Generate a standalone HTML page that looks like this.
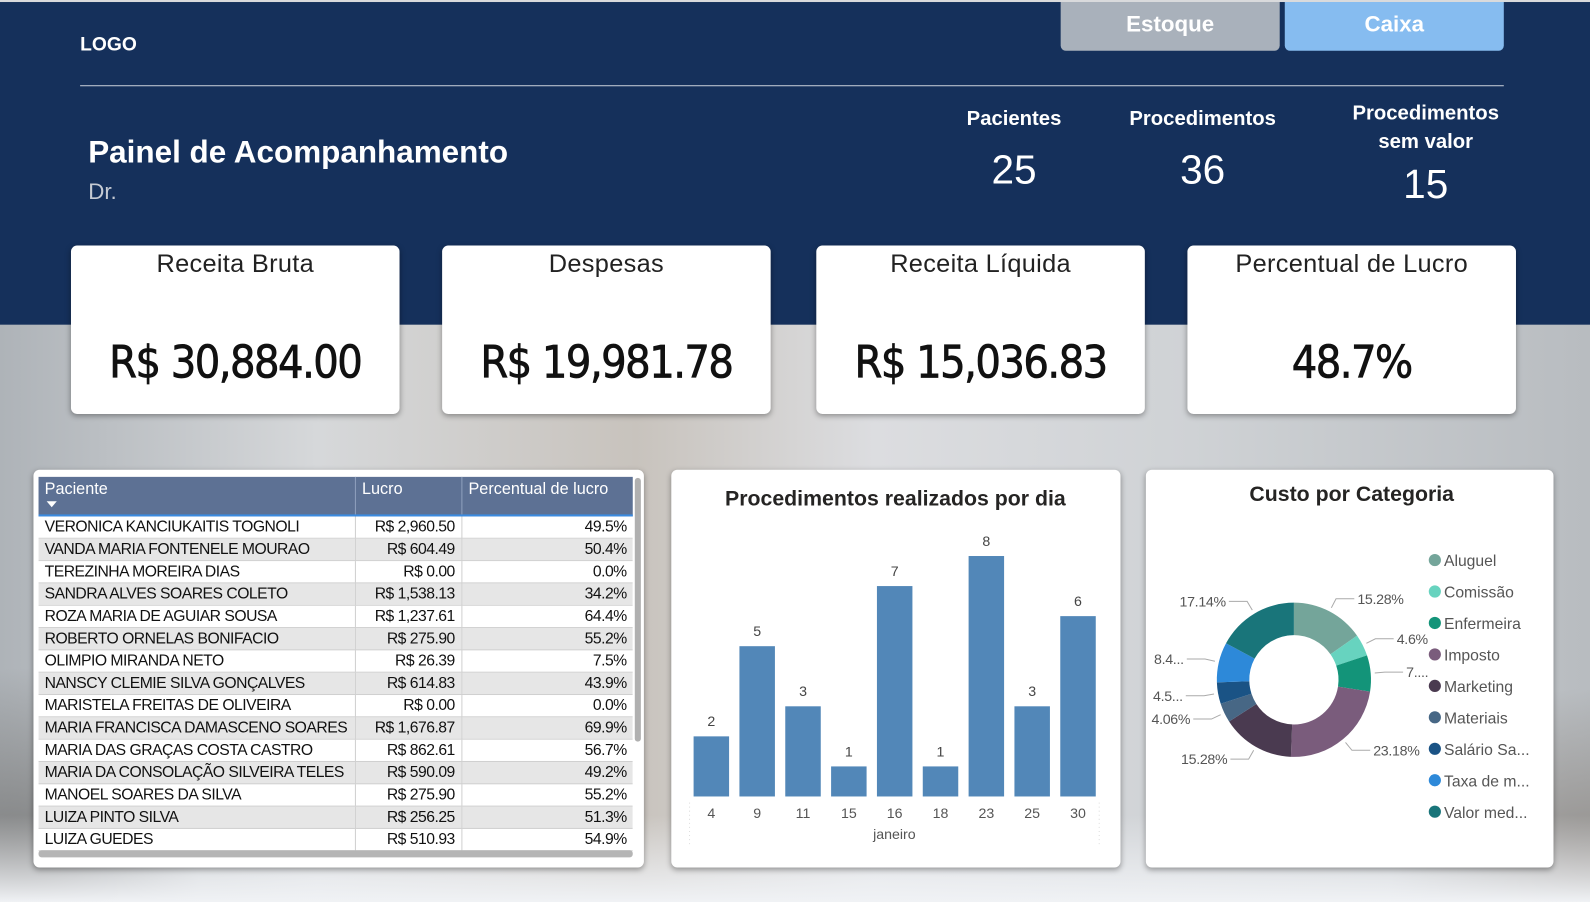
<!DOCTYPE html>
<html><head><meta charset="utf-8">
<style>
html,body{margin:0;padding:0;width:1590px;height:902px;overflow:hidden;background:#c9ccd0;}
#wrap{position:absolute;left:0;top:0;width:1568px;height:889px;transform-origin:0 0;transform:scale(1.01403,1.01462);font-family:"Liberation Sans","DejaVu Sans",sans-serif;}
.abs{position:absolute;}
.bg{left:0;top:318px;width:1568px;height:571px;background:
 linear-gradient(180deg,rgba(255,255,255,0) 0,rgba(255,255,255,0) 85%,rgba(240,242,245,1) 100%),
 radial-gradient(ellipse 180px 260px at 20px 600px,#6b6a68,rgba(0,0,0,0)),
 radial-gradient(ellipse 200px 200px at 1570px 560px,#8a8580,rgba(0,0,0,0)),
 linear-gradient(90deg,#aeb3b8 0,#d6d8da 20%,#c8c3bd 40%,#dcdde0 55%,#cfd2d5 75%,#b8bcc0 100%);}
.hdr{left:0;top:0;width:1568px;height:320px;background:#15305b;border-top:2px solid #d9dadc;box-sizing:border-box;}
.card{background:#fff;border-radius:6px;box-shadow:0 2px 6px rgba(0,0,0,.35);}
.kpi-t{position:absolute;left:0;right:0;top:4px;text-align:center;font-size:25px;color:#222;letter-spacing:0.3px;}
.kpi-v{position:absolute;left:0;right:0;top:90px;text-align:center;font-size:44px;color:#111;letter-spacing:-1.5px;-webkit-text-stroke:0.7px #111;font-family:"DejaVu Sans Condensed","Liberation Sans Narrow","Liberation Sans",sans-serif;}
.stat{color:#fff;text-align:center;font-weight:bold;}
table{border-collapse:collapse;font-size:15.5px;color:#111;table-layout:fixed;letter-spacing:-0.5px;}
td{height:21px;padding:0 6px;border-right:1px solid #cfcfcf;border-bottom:1px solid #d0d0d0;white-space:nowrap;overflow:hidden;}
tr.alt td{background:#e6e6e6;}
</style></head><body>
<div id="wrap">
 <div class="abs bg"></div>
 <div class="abs hdr"></div>
 <div class="abs" style="left:79px;top:34px;color:#fff;font-size:19px;font-weight:bold;">LOGO</div>
 <div class="abs" style="left:1046px;top:2px;width:216px;height:48px;background:#a9b1bb;border-radius:0 0 5px 5px;color:#fff;font-size:22px;font-weight:bold;text-align:center;line-height:44px;">Estoque</div>
 <div class="abs" style="left:1267px;top:2px;width:216px;height:48px;background:#86bcf0;border-radius:0 0 5px 5px;color:#fff;font-size:22px;font-weight:bold;text-align:center;line-height:44px;">Caixa</div>
 <div class="abs" style="left:79px;top:84px;width:1404px;height:1px;background:#c9d0da;"></div>
 <div class="abs" style="left:87px;top:132px;color:#fff;font-size:31px;font-weight:bold;">Painel de Acompanhamento</div>
 <div class="abs" style="left:87px;top:176px;color:#c5cad3;font-size:22px;">Dr.</div>
 <div class="abs stat" style="left:930px;width:140px;top:106px;font-size:20px;">Pacientes</div>
 <div class="abs stat" style="left:930px;width:140px;top:146px;font-size:40px;font-weight:normal;">25</div>
 <div class="abs stat" style="left:1096px;width:180px;top:106px;font-size:20px;">Procedimentos</div>
 <div class="abs stat" style="left:1096px;width:180px;top:146px;font-size:40px;font-weight:normal;">36</div>
 <div class="abs stat" style="left:1316px;width:180px;top:98px;font-size:20px;line-height:28px;">Procedimentos<br>sem valor</div>
 <div class="abs stat" style="left:1316px;width:180px;top:160px;font-size:40px;font-weight:normal;">15</div>

 <div class="abs card" style="left:70px;top:242px;width:324px;height:166px;"><div class="kpi-t">Receita Bruta</div><div class="kpi-v">R$ 30,884.00</div></div>
 <div class="abs card" style="left:436px;top:242px;width:324px;height:166px;"><div class="kpi-t">Despesas</div><div class="kpi-v">R$ 19,981.78</div></div>
 <div class="abs card" style="left:805px;top:242px;width:324px;height:166px;"><div class="kpi-t">Receita Líquida</div><div class="kpi-v">R$ 15,036.83</div></div>
 <div class="abs card" style="left:1171px;top:242px;width:324px;height:166px;"><div class="kpi-t">Percentual de Lucro</div><div class="kpi-v">48.7%</div></div>

 <div class="abs card" style="left:33px;top:463px;width:602px;height:392px;">
  <div class="abs" style="left:5px;top:7px;width:586px;height:37px;background:#5d7194;border-bottom:2px solid #3b8be0;">
   <div class="abs" style="left:6px;top:4px;color:#fff;font-size:16px;">Paciente</div>
   <div class="abs" style="left:8px;top:24px;width:0;height:0;border-left:5px solid transparent;border-right:5px solid transparent;border-top:6px solid #fff;"></div>
   <div class="abs" style="left:312px;top:0;width:1px;height:37px;background:#8fa0bd;"></div>
   <div class="abs" style="left:319px;top:4px;color:#fff;font-size:16px;">Lucro</div>
   <div class="abs" style="left:417px;top:0;width:1px;height:37px;background:#8fa0bd;"></div>
   <div class="abs" style="left:424px;top:4px;color:#fff;font-size:16px;">Percentual de lucro</div>
  </div>
  <div class="abs" style="left:5px;top:46px;width:586px;height:330px;overflow:hidden;">
  <table id="tbl" style="width:586px;"><colgroup><col style="width:312px"><col style="width:105px"><col style="width:169px"></colgroup><tbody id="tb"></tbody></table>
  </div>
  <div class="abs" style="left:593px;top:8px;width:6px;height:260px;background:#b0b0b0;border-radius:3px;"></div>
  <div class="abs" style="left:5px;top:375px;width:586px;height:7px;background:#b5b5b5;border-radius:3px;"></div>
 </div>

 <div class="abs card" style="left:662px;top:463px;width:443px;height:392px;">
  <svg id="bar" width="443" height="392"></svg>
 </div>

 <div class="abs card" style="left:1130px;top:463px;width:402px;height:392px;">
  <svg id="donut" width="402" height="392"></svg>
 </div>
</div>
<script>
const patients=["VERONICA KANCIUKAITIS TOGNOLI","VANDA MARIA FONTENELE MOURAO","TEREZINHA MOREIRA DIAS","SANDRA ALVES SOARES COLETO","ROZA MARIA DE AGUIAR SOUSA","ROBERTO ORNELAS BONIFACIO","OLIMPIO MIRANDA NETO","NANSCY CLEMIE SILVA GONÇALVES","MARISTELA FREITAS DE OLIVEIRA","MARIA FRANCISCA DAMASCENO SOARES","MARIA DAS GRAÇAS COSTA CASTRO","MARIA DA CONSOLAÇÃO SILVEIRA TELES","MANOEL SOARES DA SILVA","LUIZA PINTO SILVA","LUIZA GUEDES"];
const lucro=["R$ 2,960.50","R$ 604.49","R$ 0.00","R$ 1,538.13","R$ 1,237.61","R$ 275.90","R$ 26.39","R$ 614.83","R$ 0.00","R$ 1,676.87","R$ 862.61","R$ 590.09","R$ 275.90","R$ 256.25","R$ 510.93"];
const pct=["49.5%","50.4%","0.0%","34.2%","64.4%","55.2%","7.5%","43.9%","0.0%","69.9%","56.7%","49.2%","55.2%","51.3%","54.9%"];
const days=["4","9","11","15","16","18","23","25","30"];
const counts=[2,5,3,1,7,1,8,3,6];
const cats=["Aluguel","Comissão","Enfermeira","Imposto","Marketing","Materiais","Salário Sa...","Taxa de m...","Valor med..."];
const shares=[15.28,4.6,7.56,23.18,15.28,4.06,4.5,8.4,17.14];
const shareLabels=["15.28%","4.6%","7....","23.18%","15.28%","4.06%","4.5...","8.4...","17.14%"];
const colors=["#74a59a","#67d3bf","#139479","#7a5c7c","#4a3a50","#476785","#1a5385","#2d89d9","#19757a"];

const tb=document.getElementById('tb');
patients.forEach((p,i)=>{
 const tr=document.createElement('tr');
 
 
 if(i%2===1)tr.className='alt';
 tr.innerHTML='<td>'+p+'</td><td style="text-align:right">'+lucro[i]+'</td><td style="text-align:right;border-right:none">'+pct[i]+'</td>';
 tb.appendChild(tr);
});

const NS='http://www.w3.org/2000/svg';
function mk(svg,tag,attrs,text){const e=document.createElementNS(NS,tag);for(const k in attrs)e.setAttribute(k,attrs[k]);if(text!==undefined)e.textContent=text;svg.appendChild(e);return e;}

const bar=document.getElementById('bar');
const t1=mk(bar,'text',{x:221,y:35,'text-anchor':'middle','font-size':21,fill:'#252423','font-weight':'bold'},'Procedimentos realizados por dia');


const x0=22,step=45.2,bw=35,base=322,maxV=8,plotH=237;
const y=v=>base-v/maxV*plotH;
mk(bar,'line',{x1:18,y1:328,x2:18,y2:372,stroke:'#ddd','stroke-dasharray':'1,3'});
mk(bar,'line',{x1:422,y1:328,x2:422,y2:372,stroke:'#ddd','stroke-dasharray':'1,3'});
days.forEach((d,i)=>{
 const cx=x0+step*i+bw/2;
 const r=mk(bar,'rect',{x:cx-bw/2,y:y(counts[i]),width:bw,height:base-y(counts[i]),fill:'#5287b8'});
 
 
 const l=mk(bar,'text',{x:cx,y:y(counts[i])-10,'text-anchor':'middle','font-size':14,fill:'#444'},counts[i]);
 
 
 const tk=mk(bar,'text',{x:cx,y:343,'text-anchor':'middle','font-size':14,fill:'#555'},d);
 
 
});
const xt=mk(bar,'text',{x:220,y:364,'text-anchor':'middle','font-size':14,fill:'#555'},'janeiro');



const dn=document.getElementById('donut');
const dt=mk(dn,'text',{x:203,y:31,'text-anchor':'middle','font-size':21,fill:'#252423','font-weight':'bold'},'Custo por Categoria');


const cx=146,cy=207,R=76,r0=44;
const total=shares.reduce((a,b)=>a+b,0);
let acc=0;
shares.forEach((s,i)=>{
 const a0=acc/total*2*Math.PI-Math.PI/2;acc+=s;const a1=acc/total*2*Math.PI-Math.PI/2;
 const lg=(a1-a0)>Math.PI?1:0;
 const P=(rr,a)=>[cx+rr*Math.cos(a),cy+rr*Math.sin(a)];
 const [x1,y1]=P(R,a0),[x2,y2]=P(R,a1),[x3,y3]=P(r0,a1),[x4,y4]=P(r0,a0);
 const pth=mk(dn,'path',{d:`M${x1},${y1}A${R},${R} 0 ${lg} 1 ${x2},${y2}L${x3},${y3}A${r0},${r0} 0 ${lg} 0 ${x4},${y4}Z`,fill:colors[i]});
 
 
 const am=(a0+a1)/2;const right=Math.cos(am)>=0;
 const [ex,ey]=P(R+4,am),[bx,by]=P(R+14,am);
 const hx=bx+(right?18:-18);
 mk(dn,'polyline',{points:`${ex},${ey} ${bx},${by} ${hx},${by}`,fill:'none',stroke:'#aaa','stroke-width':1});
 const lt=mk(dn,'text',{x:hx+(right?3:-3),y:by+5,'text-anchor':right?'start':'end','font-size':14,fill:'#555','letter-spacing':'-0.3'},shareLabels[i]);
 
 
});
cats.forEach((c,i)=>{
 const yy=89+i*31;
 const dot=mk(dn,'circle',{cx:285,cy:yy,r:6,fill:colors[i]});
 
 
 const t=mk(dn,'text',{x:294,y:yy+6,'font-size':15.5,fill:'#555'},c);
 
 
});
</script>
</body></html>
